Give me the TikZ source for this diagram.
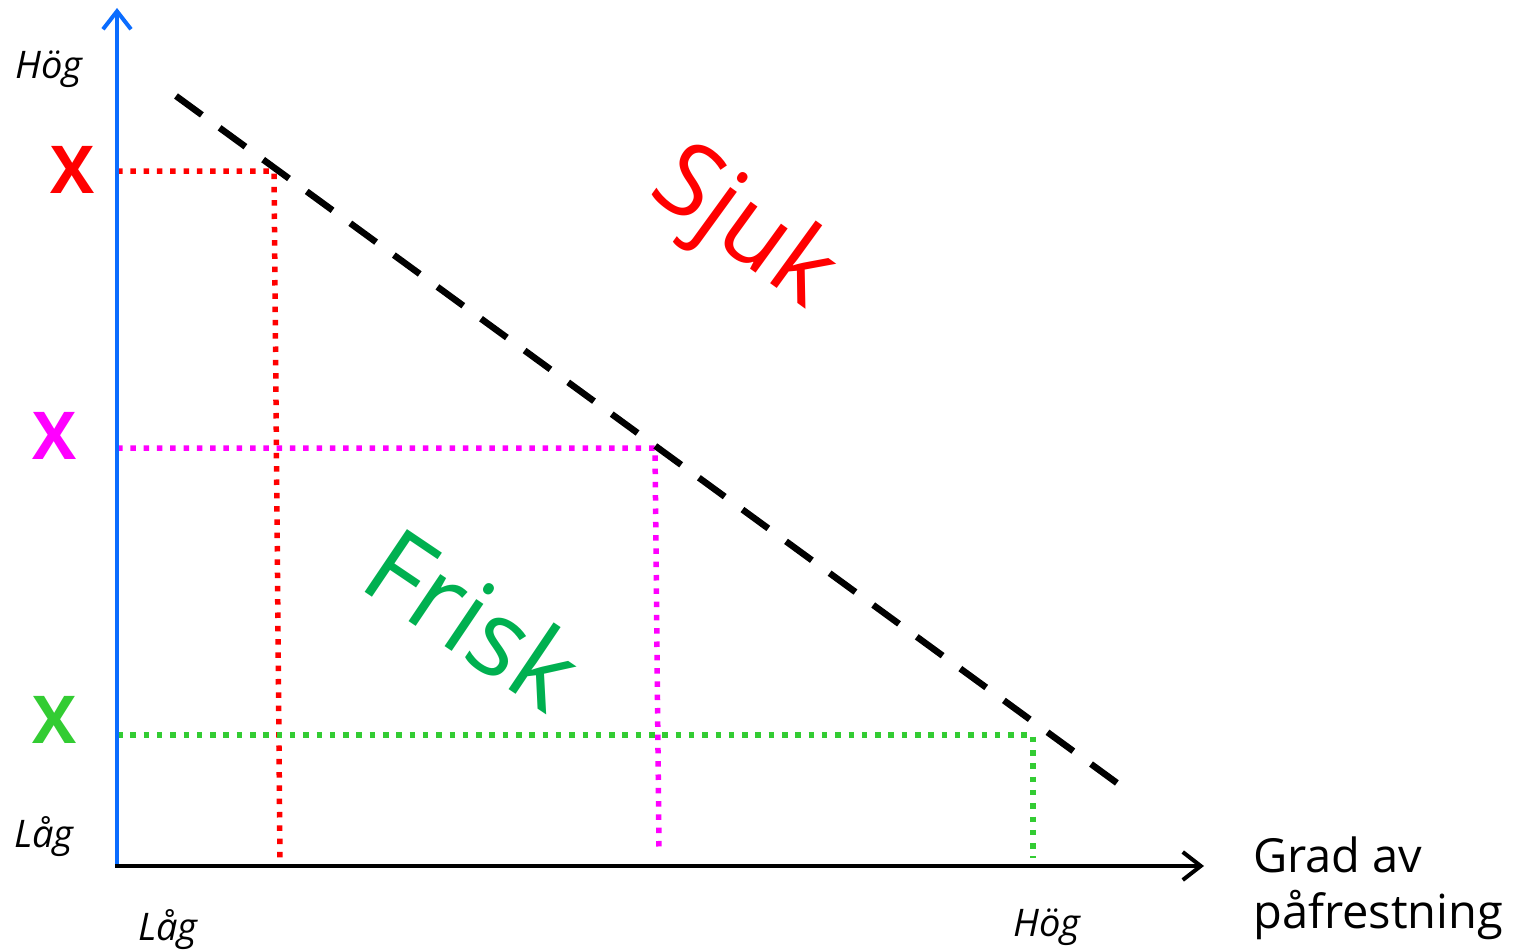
\documentclass[tikz,border=0pt]{standalone}
\usepackage{fontspec}
\setmainfont{Open Sans}
\usetikzlibrary{arrows.meta}
\definecolor{axblue}{HTML}{0A6CFF}
\definecolor{dred}{HTML}{FF0000}
\definecolor{dmag}{HTML}{FF00FF}
\definecolor{dgreen}{HTML}{33CC33}
\definecolor{friskgreen}{HTML}{00B050}
\tikzset{
  axisline/.style={line width=4.5pt, -{Straight Barb[length=18pt,width=28pt,line width=4pt]}},
  dotline/.style={line width=5.5pt, dash pattern=on 5.5pt off 7.8pt},
  border/.style={black, line width=6.5pt, dash pattern=on 32pt off 21.95pt},
  lbl/.style={font=\itshape\fontsize{38}{42}\selectfont, inner sep=0pt},
  xmark/.style={font=\bfseries\fontsize{66}{66}\selectfont, inner sep=0pt},
  big/.style={font=\fontsize{102}{102}\selectfont, inner sep=0pt, rotate=-36}
}
\begin{document}
\begin{tikzpicture}[x=1pt,y=-1pt]
\useasboundingbox (0,0) rectangle (1533,950);
\coordinate (O) at (117,866);
\coordinate (Ytop) at (117,8);
\coordinate (Xend) at (1204,866);
\coordinate (D1) at (176,96);
\coordinate (D2) at (1117,783);
% dotted lines
\coordinate (R0) at (117,171);
\coordinate (R1) at (274,171);
\coordinate (R2) at (280,862);
\coordinate (M0) at (117,448);
\coordinate (M1) at (655,448);
\coordinate (M2) at (659,852);
\coordinate (G0) at (117,735);
\coordinate (G1) at (1033,735);
\coordinate (G2) at (1033,858);
\draw[dotline, dred] (R0) -- (R1) -- (R2);
\draw[dotline, dmag] (M0) -- (M1) -- (M2);
\draw[dotline, dgreen] (G0) -- (G1) -- (G2);
\draw[border] (D1) -- (D2);
\draw[axisline, axblue] (O) -- (Ytop);
\draw[axisline, black] ([xshift=-2pt]O) -- (Xend);
% labels
\node[lbl] (hy) at (49,69) {Hög};
\node[lbl] (ly) at (44,837) {Låg};
\node[lbl] (lx) at (168,930) {Låg};
\node[lbl] (hx) at (1047,927) {Hög};
\node[anchor=north west, align=left, inner sep=0pt, font=\fontsize{47}{56}\selectfont] (gp) at (1253,837) {Grad av\\påfrestning};
\node[xmark, dred] (xr) at (73,170) {X};
\node[xmark, dmag] (xm) at (55,436) {X};
\node[xmark, dgreen] (xg) at (55,720) {X};
\node[big, dred] (sjuk) at (742,230) {Sjuk};
\node[big, friskgreen, font=\fontsize{106}{106}\selectfont, rotate=2] (frisk) at (474,618) {Frisk};
\end{tikzpicture}
\end{document}
